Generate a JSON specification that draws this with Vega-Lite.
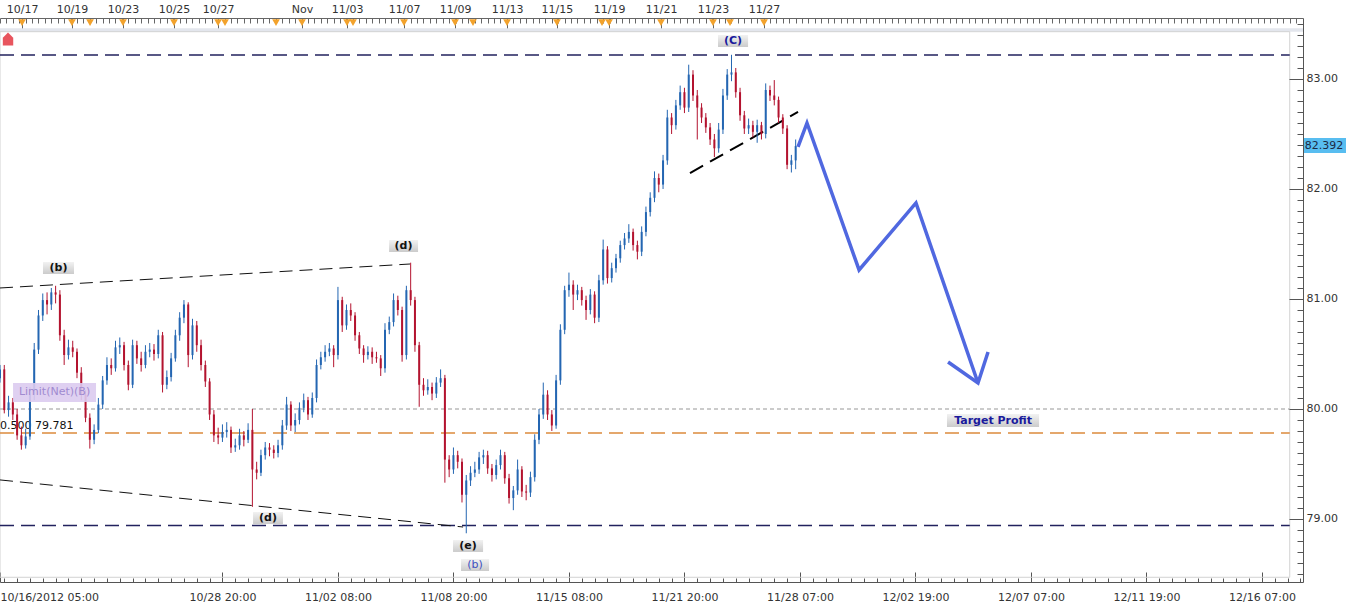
{
"$schema": "https://vega.github.io/schema/vega-lite/v6.json",
"width": 1303, "height": 564,
"autosize": {"type": "none"},
"padding": {"left": 0, "top": 18, "right": 57, "bottom": 26},
"background": "white",
"config": {"view": {"stroke": null}, "font": "DejaVu Sans", "scale": {"continuousPadding": 0},
  "axis": {"labelFont": "DejaVu Sans", "labelFontSize": 11, "labelColor": "#333333", "domainColor": "#666666", "tickColor": "#666666", "grid": false}},
"resolve": {"axis": {"x": "independent", "y": "independent"}},
"datasets": {
"candles": [
{"t":0,"o":80.28,"h":80.40,"l":80.24,"c":80.36},
{"t":4,"o":80.36,"h":80.40,"l":79.96,"c":79.99},
{"t":8,"o":79.99,"h":80.12,"l":79.93,"c":80.06},
{"t":12,"o":80.06,"h":80.10,"l":79.90,"c":79.95},
{"t":16,"o":79.95,"h":80.00,"l":79.72,"c":79.76},
{"t":20,"o":79.76,"h":79.84,"l":79.63,"c":79.67},
{"t":24,"o":79.67,"h":79.82,"l":79.64,"c":79.75},
{"t":28,"o":79.75,"h":80.20,"l":79.72,"c":80.13},
{"t":32,"o":80.13,"h":80.60,"l":80.08,"c":80.54},
{"t":36,"o":80.54,"h":80.90,"l":80.50,"c":80.85},
{"t":40,"o":80.85,"h":81.05,"l":80.80,"c":80.99},
{"t":44,"o":80.99,"h":81.06,"l":80.86,"c":80.95},
{"t":48,"o":80.95,"h":81.10,"l":80.90,"c":81.06},
{"t":52,"o":81.06,"h":81.12,"l":80.96,"c":81.04},
{"t":56,"o":81.04,"h":81.08,"l":80.62,"c":80.67},
{"t":60,"o":80.67,"h":80.72,"l":80.40,"c":80.49},
{"t":64,"o":80.49,"h":80.63,"l":80.45,"c":80.56},
{"t":68,"o":80.56,"h":80.62,"l":80.47,"c":80.52},
{"t":72,"o":80.52,"h":80.55,"l":80.28,"c":80.33},
{"t":76,"o":80.33,"h":80.38,"l":80.08,"c":80.13},
{"t":80,"o":80.13,"h":80.17,"l":79.88,"c":79.92},
{"t":84,"o":79.92,"h":79.96,"l":79.64,"c":79.72},
{"t":88,"o":79.72,"h":79.86,"l":79.68,"c":79.81},
{"t":92,"o":79.81,"h":80.10,"l":79.78,"c":80.04},
{"t":96,"o":80.04,"h":80.30,"l":80.00,"c":80.26},
{"t":100,"o":80.26,"h":80.47,"l":80.22,"c":80.40},
{"t":104,"o":80.40,"h":80.46,"l":80.31,"c":80.37},
{"t":108,"o":80.37,"h":80.62,"l":80.34,"c":80.56},
{"t":112,"o":80.56,"h":80.65,"l":80.50,"c":80.58},
{"t":116,"o":80.58,"h":80.61,"l":80.35,"c":80.40},
{"t":120,"o":80.40,"h":80.44,"l":80.17,"c":80.22},
{"t":124,"o":80.22,"h":80.63,"l":80.19,"c":80.58},
{"t":128,"o":80.58,"h":80.62,"l":80.41,"c":80.46},
{"t":132,"o":80.46,"h":80.52,"l":80.34,"c":80.40},
{"t":136,"o":80.40,"h":80.58,"l":80.37,"c":80.52},
{"t":140,"o":80.52,"h":80.60,"l":80.47,"c":80.54},
{"t":144,"o":80.54,"h":80.59,"l":80.44,"c":80.50},
{"t":148,"o":80.50,"h":80.72,"l":80.46,"c":80.67},
{"t":152,"o":80.67,"h":80.70,"l":80.15,"c":80.22},
{"t":156,"o":80.22,"h":80.35,"l":80.18,"c":80.29},
{"t":160,"o":80.29,"h":80.51,"l":80.25,"c":80.46},
{"t":164,"o":80.46,"h":80.72,"l":80.43,"c":80.67},
{"t":168,"o":80.67,"h":80.88,"l":80.62,"c":80.83},
{"t":172,"o":80.83,"h":80.99,"l":80.78,"c":80.95},
{"t":176,"o":80.95,"h":80.97,"l":80.38,"c":80.49},
{"t":180,"o":80.49,"h":80.82,"l":80.45,"c":80.76},
{"t":184,"o":80.76,"h":80.80,"l":80.52,"c":80.58},
{"t":188,"o":80.58,"h":80.63,"l":80.35,"c":80.40},
{"t":192,"o":80.40,"h":80.44,"l":80.20,"c":80.25},
{"t":196,"o":80.25,"h":80.28,"l":79.90,"c":79.95},
{"t":200,"o":79.95,"h":79.99,"l":79.70,"c":79.76},
{"t":204,"o":79.76,"h":79.83,"l":79.68,"c":79.74},
{"t":208,"o":79.74,"h":79.86,"l":79.70,"c":79.79},
{"t":212,"o":79.79,"h":79.88,"l":79.74,"c":79.81},
{"t":216,"o":79.81,"h":79.84,"l":79.60,"c":79.65},
{"t":220,"o":79.65,"h":79.73,"l":79.61,"c":79.67},
{"t":224,"o":79.67,"h":79.82,"l":79.63,"c":79.76},
{"t":228,"o":79.76,"h":79.80,"l":79.66,"c":79.72},
{"t":232,"o":79.72,"h":79.87,"l":79.69,"c":79.81},
{"t":236,"o":79.81,"h":80.00,"l":79.11,"c":79.45},
{"t":240,"o":79.45,"h":79.52,"l":79.36,"c":79.42},
{"t":244,"o":79.42,"h":79.63,"l":79.39,"c":79.58},
{"t":248,"o":79.58,"h":79.70,"l":79.54,"c":79.65},
{"t":252,"o":79.65,"h":79.69,"l":79.57,"c":79.63},
{"t":256,"o":79.63,"h":79.67,"l":79.55,"c":79.60},
{"t":260,"o":79.60,"h":79.72,"l":79.56,"c":79.67},
{"t":264,"o":79.67,"h":79.90,"l":79.63,"c":79.85},
{"t":268,"o":79.85,"h":80.11,"l":79.81,"c":80.04},
{"t":272,"o":80.04,"h":80.07,"l":79.80,"c":79.85},
{"t":276,"o":79.85,"h":79.96,"l":79.79,"c":79.90},
{"t":280,"o":79.90,"h":80.06,"l":79.86,"c":80.01},
{"t":284,"o":80.01,"h":80.14,"l":79.97,"c":80.08},
{"t":288,"o":80.08,"h":80.11,"l":79.90,"c":79.95},
{"t":292,"o":79.95,"h":80.15,"l":79.92,"c":80.10},
{"t":296,"o":80.10,"h":80.45,"l":80.06,"c":80.40},
{"t":300,"o":80.40,"h":80.52,"l":80.36,"c":80.47},
{"t":304,"o":80.47,"h":80.58,"l":80.43,"c":80.52},
{"t":308,"o":80.52,"h":80.60,"l":80.48,"c":80.55},
{"t":312,"o":80.55,"h":80.58,"l":80.38,"c":80.49},
{"t":316,"o":80.49,"h":81.11,"l":80.45,"c":80.99},
{"t":320,"o":80.99,"h":81.02,"l":80.70,"c":80.76},
{"t":324,"o":80.76,"h":80.95,"l":80.72,"c":80.90},
{"t":328,"o":80.90,"h":80.96,"l":80.80,"c":80.85},
{"t":332,"o":80.85,"h":80.88,"l":80.62,"c":80.67},
{"t":336,"o":80.67,"h":80.70,"l":80.50,"c":80.55},
{"t":340,"o":80.55,"h":80.58,"l":80.42,"c":80.49},
{"t":344,"o":80.49,"h":80.57,"l":80.45,"c":80.52},
{"t":348,"o":80.52,"h":80.56,"l":80.41,"c":80.47},
{"t":352,"o":80.47,"h":80.52,"l":80.42,"c":80.46},
{"t":356,"o":80.46,"h":80.49,"l":80.30,"c":80.37},
{"t":360,"o":80.37,"h":80.78,"l":80.33,"c":80.72},
{"t":364,"o":80.72,"h":80.84,"l":80.68,"c":80.79},
{"t":368,"o":80.79,"h":81.05,"l":80.75,"c":80.99},
{"t":372,"o":80.99,"h":81.03,"l":80.85,"c":80.90},
{"t":376,"o":80.90,"h":80.93,"l":80.43,"c":80.49},
{"t":380,"o":80.49,"h":81.12,"l":80.45,"c":81.08},
{"t":384,"o":81.08,"h":81.33,"l":80.94,"c":80.99},
{"t":388,"o":80.99,"h":81.02,"l":80.52,"c":80.58},
{"t":392,"o":80.58,"h":80.61,"l":80.02,"c":80.22},
{"t":396,"o":80.22,"h":80.28,"l":80.12,"c":80.17},
{"t":400,"o":80.17,"h":80.27,"l":80.13,"c":80.20},
{"t":404,"o":80.20,"h":80.24,"l":80.08,"c":80.14},
{"t":408,"o":80.14,"h":80.29,"l":80.10,"c":80.24},
{"t":412,"o":80.24,"h":80.36,"l":80.20,"c":80.28},
{"t":416,"o":80.28,"h":80.31,"l":79.33,"c":79.54},
{"t":420,"o":79.54,"h":79.58,"l":79.38,"c":79.45},
{"t":424,"o":79.45,"h":79.65,"l":79.41,"c":79.58},
{"t":428,"o":79.58,"h":79.62,"l":79.46,"c":79.52},
{"t":432,"o":79.52,"h":79.55,"l":79.15,"c":79.22},
{"t":436,"o":79.22,"h":79.40,"l":78.87,"c":79.35},
{"t":440,"o":79.35,"h":79.48,"l":79.30,"c":79.42},
{"t":444,"o":79.42,"h":79.52,"l":79.38,"c":79.45},
{"t":448,"o":79.45,"h":79.61,"l":79.41,"c":79.56},
{"t":452,"o":79.56,"h":79.63,"l":79.50,"c":79.58},
{"t":456,"o":79.58,"h":79.62,"l":79.41,"c":79.46},
{"t":460,"o":79.46,"h":79.50,"l":79.34,"c":79.40},
{"t":464,"o":79.40,"h":79.54,"l":79.36,"c":79.49},
{"t":468,"o":79.49,"h":79.63,"l":79.45,"c":79.58},
{"t":472,"o":79.58,"h":79.61,"l":79.32,"c":79.37},
{"t":476,"o":79.37,"h":79.41,"l":79.14,"c":79.19},
{"t":480,"o":79.19,"h":79.30,"l":79.08,"c":79.26},
{"t":484,"o":79.26,"h":79.54,"l":79.22,"c":79.45},
{"t":488,"o":79.45,"h":79.48,"l":79.20,"c":79.25},
{"t":492,"o":79.25,"h":79.31,"l":79.17,"c":79.24},
{"t":496,"o":79.24,"h":79.43,"l":79.20,"c":79.38},
{"t":500,"o":79.38,"h":79.77,"l":79.34,"c":79.72},
{"t":504,"o":79.72,"h":80.00,"l":79.68,"c":79.95},
{"t":508,"o":79.95,"h":80.24,"l":79.91,"c":80.13},
{"t":512,"o":80.13,"h":80.17,"l":79.90,"c":79.95},
{"t":516,"o":79.95,"h":79.99,"l":79.80,"c":79.85},
{"t":520,"o":79.85,"h":80.31,"l":79.82,"c":80.26},
{"t":524,"o":80.26,"h":80.77,"l":80.22,"c":80.72},
{"t":528,"o":80.72,"h":81.12,"l":80.68,"c":81.08},
{"t":532,"o":81.08,"h":81.24,"l":81.02,"c":81.13},
{"t":536,"o":81.13,"h":81.17,"l":80.90,"c":81.04},
{"t":540,"o":81.04,"h":81.13,"l":80.99,"c":81.08},
{"t":544,"o":81.08,"h":81.11,"l":80.94,"c":80.99},
{"t":548,"o":80.99,"h":81.03,"l":80.81,"c":80.90},
{"t":552,"o":80.90,"h":81.09,"l":80.86,"c":81.04},
{"t":556,"o":81.04,"h":81.07,"l":80.78,"c":80.83},
{"t":560,"o":80.83,"h":81.22,"l":80.79,"c":81.17},
{"t":564,"o":81.17,"h":81.54,"l":81.13,"c":81.45},
{"t":568,"o":81.45,"h":81.48,"l":81.14,"c":81.19},
{"t":572,"o":81.19,"h":81.33,"l":81.15,"c":81.28},
{"t":576,"o":81.28,"h":81.41,"l":81.24,"c":81.37},
{"t":580,"o":81.37,"h":81.53,"l":81.33,"c":81.49},
{"t":584,"o":81.49,"h":81.60,"l":81.45,"c":81.55},
{"t":588,"o":81.55,"h":81.68,"l":81.51,"c":81.61},
{"t":592,"o":81.61,"h":81.64,"l":81.44,"c":81.49},
{"t":596,"o":81.49,"h":81.53,"l":81.36,"c":81.43},
{"t":600,"o":81.43,"h":81.66,"l":81.39,"c":81.61},
{"t":604,"o":81.61,"h":81.84,"l":81.57,"c":81.79},
{"t":608,"o":81.79,"h":81.97,"l":81.75,"c":81.92},
{"t":612,"o":81.92,"h":82.16,"l":81.88,"c":82.10},
{"t":616,"o":82.10,"h":82.14,"l":81.97,"c":82.04},
{"t":620,"o":82.04,"h":82.31,"l":82.00,"c":82.26},
{"t":624,"o":82.26,"h":82.72,"l":82.22,"c":82.65},
{"t":628,"o":82.65,"h":82.69,"l":82.50,"c":82.58},
{"t":632,"o":82.58,"h":82.81,"l":82.54,"c":82.76},
{"t":636,"o":82.76,"h":82.94,"l":82.72,"c":82.88},
{"t":640,"o":82.88,"h":82.92,"l":82.69,"c":82.74},
{"t":644,"o":82.74,"h":83.13,"l":82.70,"c":83.04},
{"t":648,"o":83.04,"h":83.08,"l":82.80,"c":82.85},
{"t":652,"o":82.85,"h":82.90,"l":82.45,"c":82.74},
{"t":656,"o":82.74,"h":82.78,"l":82.60,"c":82.65},
{"t":660,"o":82.65,"h":82.69,"l":82.51,"c":82.56},
{"t":664,"o":82.56,"h":82.60,"l":82.40,"c":82.45},
{"t":668,"o":82.45,"h":82.50,"l":82.29,"c":82.37},
{"t":672,"o":82.37,"h":82.60,"l":82.33,"c":82.54},
{"t":676,"o":82.54,"h":82.91,"l":82.50,"c":82.85},
{"t":680,"o":82.85,"h":83.09,"l":82.81,"c":83.04},
{"t":684,"o":83.04,"h":83.22,"l":82.98,"c":83.06},
{"t":688,"o":83.06,"h":83.10,"l":82.83,"c":82.88},
{"t":692,"o":82.88,"h":82.92,"l":82.62,"c":82.67},
{"t":696,"o":82.67,"h":82.71,"l":82.50,"c":82.55},
{"t":700,"o":82.55,"h":82.64,"l":82.50,"c":82.58},
{"t":704,"o":82.58,"h":82.62,"l":82.47,"c":82.52},
{"t":708,"o":82.52,"h":82.63,"l":82.42,"c":82.58},
{"t":712,"o":82.58,"h":82.61,"l":82.45,"c":82.50},
{"t":716,"o":82.50,"h":82.96,"l":82.46,"c":82.90},
{"t":720,"o":82.90,"h":82.94,"l":82.80,"c":82.85},
{"t":724,"o":82.85,"h":82.99,"l":82.76,"c":82.81},
{"t":728,"o":82.81,"h":82.84,"l":82.60,"c":82.65},
{"t":732,"o":82.65,"h":82.68,"l":82.50,"c":82.55},
{"t":736,"o":82.55,"h":82.58,"l":82.18,"c":82.22},
{"t":740,"o":82.22,"h":82.31,"l":82.15,"c":82.26},
{"t":744,"o":82.26,"h":82.45,"l":82.18,"c":82.39}
],
"hlines": [
{"p":83.218,"k":"top"},
{"p":78.941,"k":"bottom"},
{"p":79.781,"k":"fib"},
{"p":80.0,"k":"limit"}
],
"trend": [
{"seg":"upper","t":0,"p":81.100},
{"seg":"upper","t":383.4,"p":81.318},
{"seg":"lower","t":0,"p":79.355},
{"seg":"lower","t":433,"p":78.927}
],
"neck": [
{"t":645.2,"p":82.145},
{"t":746.2,"p":82.700}
],
"proj": [
{"s":"main","o":1,"t":746.2,"p":82.382},
{"s":"main","o":2,"t":754.6,"p":82.600},
{"s":"main","o":3,"t":803.3,"p":81.264},
{"s":"main","o":4,"t":856.5,"p":81.873},
{"s":"main","o":5,"t":914.5,"p":80.236},
{"s":"head","o":1,"t":886.5,"p":80.427},
{"s":"head","o":2,"t":914.5,"p":80.236},
{"s":"head","o":3,"t":923.9,"p":80.518}
],
"labels": [
{"txt":"(b)","st":"bk","x0":40.2,"x1":69.2,"y0":81.227,"y1":81.336,"tx":54.7,"ty":81.282},
{"txt":"(d)","st":"bk","x0":363.8,"x1":390.9,"y0":81.427,"y1":81.536,"tx":377.3,"ty":81.482},
{"txt":"(d)","st":"bk","x0":236.6,"x1":264.6,"y0":78.954,"y1":79.064,"tx":250.6,"ty":79.009},
{"txt":"(e)","st":"bk","x0":423.6,"x1":451.7,"y0":78.700,"y1":78.809,"tx":437.6,"ty":78.754},
{"txt":"(b)","st":"bl","x0":431.1,"x1":457.3,"y0":78.527,"y1":78.636,"tx":444.2,"ty":78.582},
{"txt":"(C)","st":"nv","x0":671.4,"x1":699.5,"y0":83.291,"y1":83.400,"tx":685.4,"ty":83.345},
{"txt":"Target Profit","st":"nv","x0":885.5,"x1":971.6,"y0":79.836,"y1":79.954,"tx":928.6,"ty":79.895}
],
"events": [
{"t":20.6},{"t":67.3},{"t":84.2},{"t":115.0},{"t":162.7},{"t":203.9},{"t":210.4},{"t":258.1},{"t":282.4},{"t":324.5},{"t":330.1},{"t":377.8},{"t":425.5},{"t":442.3},{"t":474.1},{"t":520.8},{"t":562.9},{"t":569.5},{"t":618.1},{"t":666.7},{"t":682.6},{"t":714.4}
]
},
"layer": [
{
"data": {"values": [{"n":1}]},
"mark": {"type": "rect", "fill": "#e3e6ed", "stroke": null},
"encoding": {
 "x": {"datum": 0, "type": "quantitative", "scale": {"domain": [0, 1218.4], "nice": false, "zero": false, "padding": 0}, "axis": null},
 "x2": {"datum": 1218.4},
 "y": {"datum": 83.430, "type": "quantitative", "scale": {"domain": [78.427, 83.5545], "nice": false, "zero": false, "padding": 0},
   "axis": {"orient": "right", "title": null, "labelOverlap": false, "labelBound": false, "labelFlush": false, "zindex": 1,
     "values": [78.5,78.6,78.7,78.8,78.9,79,79.1,79.2,79.3,79.4,79.5,79.6,79.7,79.8,79.9,80,80.1,80.2,80.3,80.4,80.5,80.6,80.7,80.8,80.9,81,81.1,81.2,81.3,81.4,81.5,81.6,81.7,81.8,81.9,82,82.1,82.2,82.3,82.4,82.5,82.6,82.7,82.8,82.9,83,83.1,83.2,83.3,83.4,83.5],
     "labelExpr": "abs(datum.value - round(datum.value)) < 0.001 ? format(datum.value, '.2f') : ''",
     "tickSize": {"condition": {"test": "abs(datum.value - round(datum.value)) < 0.001", "value": -14}, "value": -6},
     "labelPadding": 17, "domainColor": "#555555", "tickColor": "#555555", "labelColor": "#333333", "labelFontSize": 11}},
 "y2": {"datum": 83.462}
}
},
{
"data": {"values": [{"n":1}]},
"mark": {"type": "rect", "fill": "transparent", "stroke": "#d2d2d2", "strokeWidth": 1},
"encoding": {
 "x": {"datum": 0, "type": "quantitative", "scale": {"domain": [0, 1218.4], "nice": false, "zero": false, "padding": 0}, "axis": null},
 "x2": {"datum": 1206},
 "y": {"datum": 78.47, "type": "quantitative", "scale": {"domain": [78.427, 83.5545], "nice": false, "zero": false, "padding": 0}, "axis": null},
 "y2": {"datum": 83.43}
}
},
{
"data": {"name": "hlines"},
"mark": {"type": "rule"},
"encoding": {
 "x": {"datum": 0, "type": "quantitative", "scale": {"domain": [0, 1218.4], "nice": false, "zero": false, "padding": 0}, "axis": null},
 "x2": {"datum": 1206},
 "y": {"field": "p", "type": "quantitative", "scale": {"domain": [78.427, 83.5545], "nice": false, "zero": false, "padding": 0}, "axis": null},
 "color": {"field": "k", "type": "nominal", "scale": {"domain": ["top","bottom","fib","limit"], "range": ["#22225e","#22225e","#dc8a3c","#bbbbbb"]}, "legend": null},
 "strokeDash": {"field": "k", "type": "nominal", "scale": {"domain": ["top","bottom","fib","limit"], "range": [[14,7],[14,7],[14,7],[4,3]]}, "legend": null},
 "strokeWidth": {"field": "k", "type": "nominal", "scale": {"domain": ["top","bottom","fib","limit"], "range": [1.5,1.5,1.5,1]}, "legend": null}
}
},
{
"data": {"name": "trend"},
"mark": {"type": "line", "color": "#111111", "strokeWidth": 1, "strokeDash": [13,7]},
"encoding": {
 "x": {"field": "t", "type": "quantitative", "scale": {"domain": [0, 1218.4], "nice": false, "zero": false, "padding": 0}, "axis": null},
 "y": {"field": "p", "type": "quantitative", "scale": {"domain": [78.427, 83.5545], "nice": false, "zero": false, "padding": 0}, "axis": null},
 "detail": {"field": "seg"}
}
},
{
"data": {"name": "neck"},
"mark": {"type": "line", "color": "#000000", "strokeWidth": 2, "strokeDash": [15,8]},
"encoding": {
 "x": {"field": "t", "type": "quantitative", "scale": {"domain": [0, 1218.4], "nice": false, "zero": false, "padding": 0}, "axis": null},
 "y": {"field": "p", "type": "quantitative", "scale": {"domain": [78.427, 83.5545], "nice": false, "zero": false, "padding": 0}, "axis": null}
}
},
{
"data": {"values": [{"txt": "0.500 79.781", "t": 0, "p": 79.845}]},
"mark": {"type": "text", "align": "left", "baseline": "middle", "fontSize": 11, "font": "DejaVu Sans", "color": "#111111"},
"encoding": {
 "x": {"field": "t", "type": "quantitative", "scale": {"domain": [0, 1218.4], "nice": false, "zero": false, "padding": 0}, "axis": null},
 "y": {"field": "p", "type": "quantitative", "scale": {"domain": [78.427, 83.5545], "nice": false, "zero": false, "padding": 0}, "axis": null},
 "text": {"field": "txt"}
}
},
{
"data": {"name": "candles"},
"mark": {"type": "rule", "strokeWidth": 1},
"encoding": {
 "x": {"field": "t", "type": "quantitative", "scale": {"domain": [0, 1218.4], "nice": false, "zero": false, "padding": 0},
   "axis": {"orient": "bottom", "title": null, "labelFlush": false, "labelOverlap": false, "labelBound": false,
     "values": [0,4,16,28,40,52,64,76,88,100,112,124,136,148,160,172,184,196,208,220,232,244,256,268,280,292,304,316,328,340,352,364,376,388,400,412,424,436,448,460,472,484,496,508,520,532,544,556,568,580,592,604,616,628,640,652,664,676,688,700,712,724,736,748,760,772,784,796,808,820,832,844,856,868,880,892,904,916,928,940,952,964,976,988,1000,1012,1024,1036,1048,1060,1072,1084,1096,1108,1120,1132,1144,1156,1168,1180,1192,1204,1216],
     "labelExpr": "indexof([0,208,316,424,532,640,748,856,964,1072,1180], datum.value) >= 0 ? ['10/16/2012 05:00','10/28 20:00','11/02 08:00','11/08 20:00','11/15 08:00','11/21 20:00','11/28 07:00','12/02 19:00','12/07 07:00','12/11 19:00','12/16 07:00'][indexof([0,208,316,424,532,640,748,856,964,1072,1180], datum.value)] : ''",
     "labelAlign": {"condition": {"test": "datum.value == 0", "value": "left"}, "value": "center"},
     "tickSize": {"condition": {"test": "indexof([0,208,316,424,532,640,748,856,964,1072,1180], datum.value) >= 0", "value": -10}, "value": -4},
     "labelPadding": 19, "domainColor": "#555555", "tickColor": "#555555", "labelColor": "#333333", "labelFontSize": 11}},
 "y": {"field": "l", "type": "quantitative", "scale": {"domain": [78.427, 83.5545], "nice": false, "zero": false, "padding": 0}, "axis": null},
 "y2": {"field": "h"},
 "color": {"condition": {"test": "datum.c >= datum.o", "value": "#2466b2"}, "value": "#b3132f"}
}
},
{
"data": {"name": "candles"},
"mark": {"type": "bar", "size": 2},
"encoding": {
 "x": {"field": "t", "type": "quantitative", "scale": {"domain": [0, 1218.4], "nice": false, "zero": false, "padding": 0}, "axis": null},
 "y": {"field": "o", "type": "quantitative", "scale": {"domain": [78.427, 83.5545], "nice": false, "zero": false, "padding": 0}, "axis": null},
 "y2": {"field": "c"},
 "color": {"condition": {"test": "datum.c >= datum.o", "value": "#2466b2"}, "value": "#b3132f"}
}
},
{
"data": {"name": "proj"},
"mark": {"type": "line", "color": "#5068e0", "strokeWidth": 3.5, "strokeJoin": "miter", "strokeCap": "butt"},
"encoding": {
 "x": {"field": "t", "type": "quantitative", "scale": {"domain": [0, 1218.4], "nice": false, "zero": false, "padding": 0}, "axis": null},
 "y": {"field": "p", "type": "quantitative", "scale": {"domain": [78.427, 83.5545], "nice": false, "zero": false, "padding": 0}, "axis": null},
 "detail": {"field": "s"},
 "order": {"field": "o", "type": "quantitative"}
}
},
{
"data": {"values": [{"txt": "Limit(Net)(B)", "x0": 12.2, "x1": 89.8, "y0": 80.063, "y1": 80.236}]},
"mark": {"type": "rect", "fill": "#dccbef", "opacity": 0.9},
"encoding": {
 "x": {"field": "x0", "type": "quantitative", "scale": {"domain": [0, 1218.4], "nice": false, "zero": false, "padding": 0}, "axis": null},
 "x2": {"field": "x1"},
 "y": {"field": "y0", "type": "quantitative", "scale": {"domain": [78.427, 83.5545], "nice": false, "zero": false, "padding": 0}, "axis": null},
 "y2": {"field": "y1"}
}
},
{
"data": {"values": [{"txt": "Limit(Net)(B)", "t": 51.0, "p": 80.150}]},
"mark": {"type": "text", "align": "center", "baseline": "middle", "fontSize": 11, "font": "DejaVu Sans", "color": "#a08ad0"},
"encoding": {
 "x": {"field": "t", "type": "quantitative", "scale": {"domain": [0, 1218.4], "nice": false, "zero": false, "padding": 0}, "axis": null},
 "y": {"field": "p", "type": "quantitative", "scale": {"domain": [78.427, 83.5545], "nice": false, "zero": false, "padding": 0}, "axis": null},
 "text": {"field": "txt"}
}
},
{
"data": {"name": "labels"},
"mark": {"type": "rect", "fill": {"gradient": "linear", "x1": 0, "y1": 0, "x2": 0, "y2": 1, "stops": [{"offset": 0, "color": "#f2f2f2"}, {"offset": 1, "color": "#cbcbcb"}]}},
"encoding": {
 "x": {"field": "x0", "type": "quantitative", "scale": {"domain": [0, 1218.4], "nice": false, "zero": false, "padding": 0}, "axis": null},
 "x2": {"field": "x1"},
 "y": {"field": "y0", "type": "quantitative", "scale": {"domain": [78.427, 83.5545], "nice": false, "zero": false, "padding": 0}, "axis": null},
 "y2": {"field": "y1"}
}
},
{
"data": {"name": "labels"},
"transform": [{"filter": "datum.st == 'bk'"}],
"mark": {"type": "text", "align": "center", "baseline": "middle", "fontSize": 11, "font": "DejaVu Sans", "fontWeight": "bold", "color": "#111111"},
"encoding": {
 "x": {"field": "tx", "type": "quantitative", "scale": {"domain": [0, 1218.4], "nice": false, "zero": false, "padding": 0}, "axis": null},
 "y": {"field": "ty", "type": "quantitative", "scale": {"domain": [78.427, 83.5545], "nice": false, "zero": false, "padding": 0}, "axis": null},
 "text": {"field": "txt"}
}
},
{
"data": {"name": "labels"},
"transform": [{"filter": "datum.st == 'nv'"}],
"mark": {"type": "text", "align": "center", "baseline": "middle", "fontSize": 11, "font": "DejaVu Sans", "fontWeight": "bold", "color": "#1a1a9c"},
"encoding": {
 "x": {"field": "tx", "type": "quantitative", "scale": {"domain": [0, 1218.4], "nice": false, "zero": false, "padding": 0}, "axis": null},
 "y": {"field": "ty", "type": "quantitative", "scale": {"domain": [78.427, 83.5545], "nice": false, "zero": false, "padding": 0}, "axis": null},
 "text": {"field": "txt"}
}
},
{
"data": {"name": "labels"},
"transform": [{"filter": "datum.st == 'bl'"}],
"mark": {"type": "text", "align": "center", "baseline": "middle", "fontSize": 11, "font": "DejaVu Sans", "color": "#4050c0"},
"encoding": {
 "x": {"field": "tx", "type": "quantitative", "scale": {"domain": [0, 1218.4], "nice": false, "zero": false, "padding": 0}, "axis": null},
 "y": {"field": "ty", "type": "quantitative", "scale": {"domain": [78.427, 83.5545], "nice": false, "zero": false, "padding": 0}, "axis": null},
 "text": {"field": "txt"}
}
},
{
"data": {"name": "events"},
"mark": {"type": "point", "shape": "triangle-down", "filled": true, "size": 60, "color": "#f2a22c", "opacity": 1},
"encoding": {
 "x": {"field": "t", "type": "quantitative", "scale": {"domain": [0, 1218.4], "nice": false, "zero": false, "padding": 0},
   "axis": {"orient": "top", "title": null, "labelFlush": false, "labelOverlap": false, "labelBound": false,
     "values": [0,6,12,18,24,30,36,42,48,54,60,66,72,78,84,90,96,102,108,114,120,126,132,138,144,150,156,162,168,174,180,186,192,198,204,210,216,222,228,234,240,246,252,258,264,270,276,282,288,294,300,306,312,318,324,330,336,342,348,354,360,366,372,378,384,390,396,402,408,414,420,426,432,438,444,450,456,462,468,474,480,486,492,498,504,510,516,522,528,534,540,546,552,558,564,570,576,582,588,594,600,606,612,618,624,630,636,642,648,654,660,666,672,678,684,690,696,702,708,714,720,726,732,738,744,750,756,762,768,774,780,786,792,798,804,810,816,822,828,834,840,846,852,858,864,870,876,882,888,894,900,906,912,918,924,930,936,942,948,954,960,966,972,978,984,990,996,1002,1008,1014,1020,1026,1032,1038,1044,1050,1056,1062,1068,1074,1080,1086,1092,1098,1104,1110,1116,1122,1128,1134,1140,1146,1152,1158,1164,1170,1176,1182,1188,1194,1200,1206,1212,20.6,67.3,115,162.7,203.9,282.4,324.5,377.8,425.5,474.1,520.8,569.5,618.1,666.7,714.4],
     "labelExpr": "indexof([20.6,67.3,115,162.7,203.9,282.4,324.5,377.8,425.5,474.1,520.8,569.5,618.1,666.7,714.4], datum.value) >= 0 ? ['10/17','10/19','10/23','10/25','10/27','Nov','11/03','11/07','11/09','11/13','11/15','11/19','11/21','11/23','11/27'][indexof([20.6,67.3,115,162.7,203.9,282.4,324.5,377.8,425.5,474.1,520.8,569.5,618.1,666.7,714.4], datum.value)] : ''",
     "tickSize": {"condition": {"test": "indexof([20.6,67.3,115,162.7,203.9,282.4,324.5,377.8,425.5,474.1,520.8,569.5,618.1,666.7,714.4], datum.value) >= 0", "value": -12}, "value": -5},
     "labelPadding": 16, "domainColor": "#666666", "tickColor": "#666666", "labelColor": "#333333", "labelFontSize": 11}},
 "y": {"datum": 83.513, "type": "quantitative", "scale": {"domain": [78.427, 83.5545], "nice": false, "zero": false, "padding": 0}, "axis": null}
}
},
{
"data": {"values": [{"t": 7.5, "p": 83.363}]},
"mark": {"type": "point", "shape": "M -0.8 1 L -0.8 -0.2 L 0 -1 L 0.8 -0.2 L 0.8 1 Z", "filled": true, "size": 169, "color": "#e8555e", "opacity": 1},
"encoding": {
 "x": {"field": "t", "type": "quantitative", "scale": {"domain": [0, 1218.4], "nice": false, "zero": false, "padding": 0}, "axis": null},
 "y": {"field": "p", "type": "quantitative", "scale": {"domain": [78.427, 83.5545], "nice": false, "zero": false, "padding": 0}, "axis": null}
}
},
{
"data": {"values": [{"x0": 1218.4, "x1": 1258.6, "y0": 82.327, "y1": 82.4635}]},
"mark": {"type": "rect", "fill": "#58bdf0"},
"encoding": {
 "x": {"field": "x0", "type": "quantitative", "scale": {"domain": [0, 1218.4], "nice": false, "zero": false, "padding": 0}, "axis": null},
 "x2": {"field": "x1"},
 "y": {"field": "y0", "type": "quantitative", "scale": {"domain": [78.427, 83.5545], "nice": false, "zero": false, "padding": 0}, "axis": null},
 "y2": {"field": "y1"}
}
},
{
"data": {"values": [{"txt": "82.392", "t": 1220.0, "p": 82.395}]},
"mark": {"type": "text", "align": "left", "baseline": "middle", "fontSize": 11, "font": "DejaVu Sans", "color": "#1c2a44"},
"encoding": {
 "x": {"field": "t", "type": "quantitative", "scale": {"domain": [0, 1218.4], "nice": false, "zero": false, "padding": 0}, "axis": null},
 "y": {"field": "p", "type": "quantitative", "scale": {"domain": [78.427, 83.5545], "nice": false, "zero": false, "padding": 0}, "axis": null},
 "text": {"field": "txt"}
}
}
]
}
